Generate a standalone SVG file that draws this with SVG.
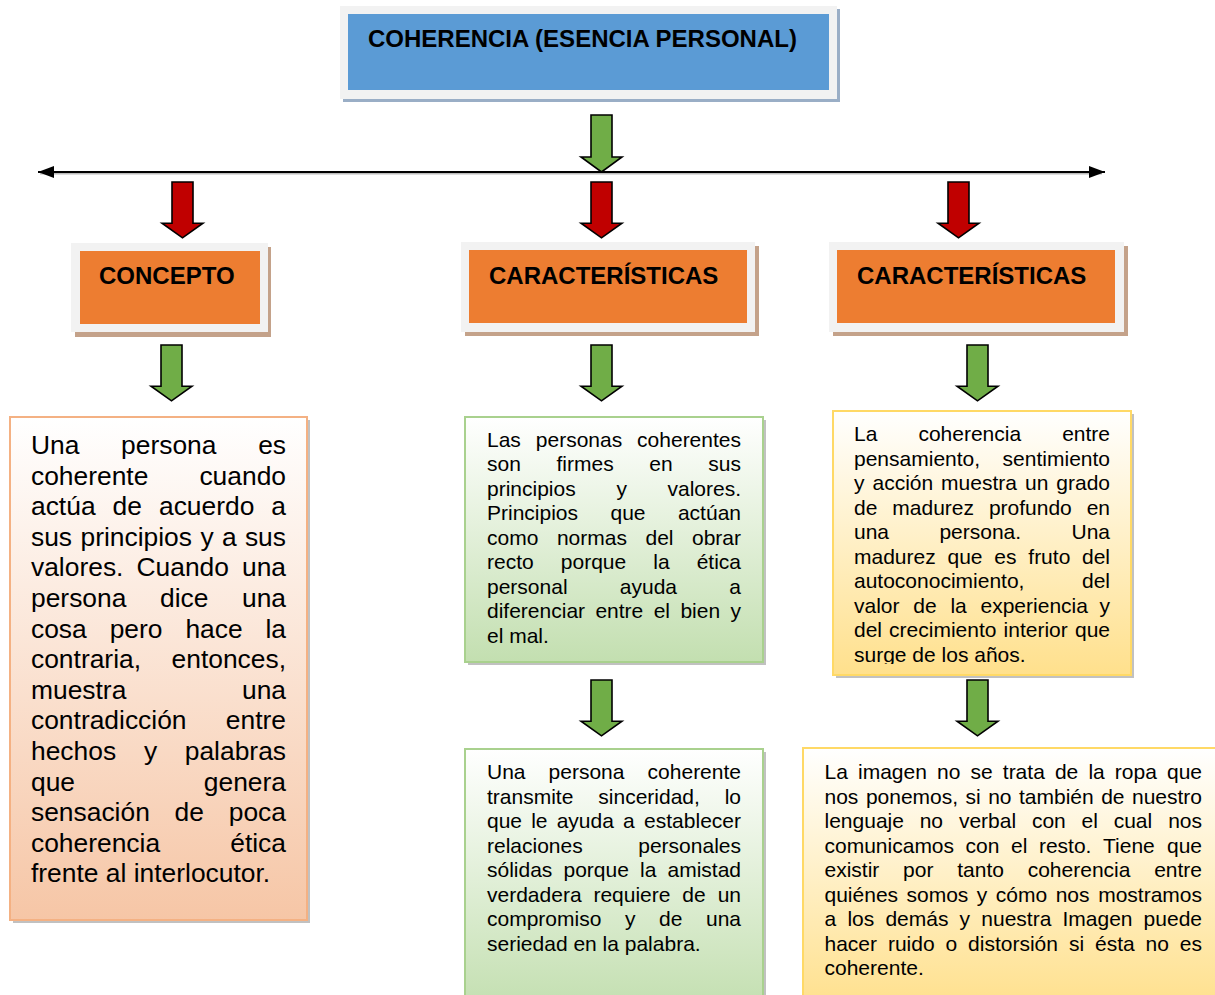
<svg xmlns="http://www.w3.org/2000/svg" xmlns:xlink="http://www.w3.org/1999/xlink" width="1215" height="995" viewBox="0 0 1215 995">
<style>
text{font-family:"Liberation Sans",Arial,sans-serif;fill:#000}
.h{font-weight:bold;font-size:24px}
.bl{font-size:26.4px}
.bs{font-size:21px}
.e{text-anchor:end}
.frame{fill:#f2f2f2}
.arrG{fill:#70ad47}
.arrR{fill:#c00000}
</style>
<defs>
<linearGradient id="gOr" x1="0" y1="0" x2="0" y2="1"><stop offset="0" stop-color="#ffffff"/><stop offset="1" stop-color="#f6c6a6"/></linearGradient>
<linearGradient id="gGr" x1="0" y1="0" x2="0" y2="1"><stop offset="0" stop-color="#ffffff"/><stop offset="1" stop-color="#c3dfb0"/></linearGradient>
<linearGradient id="gYe" x1="0" y1="0" x2="0" y2="1"><stop offset="0" stop-color="#ffffff"/><stop offset="1" stop-color="#ffe08c"/></linearGradient>
<path id="blk" d="M-10.5,0 H10.5 V42 H20.5 L0,57 L-20.5,42 H-10.5 Z" stroke="#000" stroke-width="1.6" stroke-linejoin="miter"/>
<marker id="ah" viewBox="0 0 16 12" refX="16" refY="6" markerWidth="16" markerHeight="12" markerUnits="userSpaceOnUse" orient="auto-start-reverse"><path d="M0,0 L16,6 L0,12 Z" fill="#000"/></marker>
<clipPath id="clipY1"><rect x="833" y="411" width="298" height="253"/></clipPath>
</defs>

<g id="connectors">
<line x1="40" y1="173.5" x2="1102" y2="173.5" stroke="#bbb" stroke-width="2"/>
<line x1="38" y1="172" x2="1105" y2="172" stroke="#000" stroke-width="2.2" marker-start="url(#ah)" marker-end="url(#ah)"/>
<use xlink:href="#blk" class="arrG" transform="translate(601.5,115)"/>
<use xlink:href="#blk" class="arrR" transform="translate(182.5,182) scale(1,0.98)"/>
<use xlink:href="#blk" class="arrR" transform="translate(601.5,182) scale(1,0.98)"/>
<use xlink:href="#blk" class="arrR" transform="translate(958.5,182) scale(1,0.98)"/>
<use xlink:href="#blk" class="arrG" transform="translate(171.5,345) scale(1,0.98)"/>
<use xlink:href="#blk" class="arrG" transform="translate(601.5,345) scale(1,0.98)"/>
<use xlink:href="#blk" class="arrG" transform="translate(977.5,345) scale(1,0.98)"/>
<use xlink:href="#blk" class="arrG" transform="translate(601.5,680) scale(1,0.98)"/>
<use xlink:href="#blk" class="arrG" transform="translate(977.5,680) scale(1,0.98)"/>
</g>

<g id="title">
<rect x="343" y="9" width="497" height="93" fill="#9aaec6"/>
<rect x="340" y="6" width="497" height="93" class="frame"/>
<rect x="348" y="14" width="481" height="76" fill="#5b9bd5"/>
<text class="h" x="368" y="47">COHERENCIA (ESENCIA PERSONAL)</text>
</g>

<g id="concepto">
<rect x="75" y="247" width="196" height="90" fill="#c4a28a"/>
<rect x="71" y="243" width="197" height="89" class="frame"/>
<rect x="80" y="251" width="180" height="73" fill="#ed7d31"/>
<text class="h" x="99" y="284">CONCEPTO</text>
</g>

<g id="caracteristicas1">
<rect x="465" y="246" width="294" height="90" fill="#c4a28a"/>
<rect x="461" y="242" width="294" height="90" class="frame"/>
<rect x="469" y="250" width="278" height="73" fill="#ed7d31"/>
<text class="h" x="489" y="284">CARACTERÍSTICAS</text>
</g>

<g id="caracteristicas2">
<rect x="833" y="246" width="295" height="90" fill="#c4a28a"/>
<rect x="829" y="242" width="295" height="90" class="frame"/>
<rect x="837" y="250" width="278" height="73" fill="#ed7d31"/>
<text class="h" x="857" y="284">CARACTERÍSTICAS</text>
</g>

<g id="concepto-texto">
<rect x="13" y="420" width="297" height="503" fill="#a6a6a6" opacity="0.7"/>
<rect x="10" y="417" width="297" height="503" fill="url(#gOr)" stroke="#f4b183" stroke-width="2"/>
<g class="bl">
<text y="454"><tspan x="31">Una</tspan><tspan x="121.1">persona</tspan><tspan x="286" class="e">es</tspan></text>
<text y="484.6"><tspan x="31">coherente</tspan><tspan x="286" class="e">cuando</tspan></text>
<text y="515.2"><tspan x="31">actúa</tspan><tspan x="112.6">de</tspan><tspan x="159">acuerdo</tspan><tspan x="286" class="e">a</tspan></text>
<text y="545.8"><tspan x="31">sus</tspan><tspan x="80.5">principios</tspan><tspan x="200.4">y</tspan><tspan x="222">a</tspan><tspan x="286" class="e">sus</tspan></text>
<text y="576.4"><tspan x="31">valores.</tspan><tspan x="136.5">Cuando</tspan><tspan x="286" class="e">una</tspan></text>
<text y="607"><tspan x="31">persona</tspan><tspan x="160">dice</tspan><tspan x="286" class="e">una</tspan></text>
<text y="637.6"><tspan x="31">cosa</tspan><tspan x="109.7">pero</tspan><tspan x="185.4">hace</tspan><tspan x="286" class="e">la</tspan></text>
<text y="668.2"><tspan x="31">contraria,</tspan><tspan x="286" class="e">entonces,</tspan></text>
<text y="698.8"><tspan x="31">muestra</tspan><tspan x="286" class="e">una</tspan></text>
<text y="729.4"><tspan x="31">contradicción</tspan><tspan x="286" class="e">entre</tspan></text>
<text y="760"><tspan x="31">hechos</tspan><tspan x="143.9">y</tspan><tspan x="286" class="e">palabras</tspan></text>
<text y="790.6"><tspan x="31">que</tspan><tspan x="286" class="e">genera</tspan></text>
<text y="821.2"><tspan x="31">sensación</tspan><tspan x="174.6">de</tspan><tspan x="286" class="e">poca</tspan></text>
<text y="851.8"><tspan x="31">coherencia</tspan><tspan x="286" class="e">ética</tspan></text>
<text y="882.4" x="31">frente al interlocutor.</text>
</g>
</g>

<g id="caract1-texto1">
<rect x="468" y="420" width="298" height="245" fill="#a6a6a6" opacity="0.7"/>
<rect x="465" y="417" width="298" height="245" fill="url(#gGr)" stroke="#a9d18e" stroke-width="2"/>
<g class="bs">
<text y="446.5"><tspan x="487">Las</tspan><tspan x="535.8">personas</tspan><tspan x="741" class="e">coherentes</tspan></text>
<text y="471"><tspan x="487">son</tspan><tspan x="556.5">firmes</tspan><tspan x="649.3">en</tspan><tspan x="741" class="e">sus</tspan></text>
<text y="495.5"><tspan x="487">principios</tspan><tspan x="616.4">y</tspan><tspan x="741" class="e">valores.</tspan></text>
<text y="520"><tspan x="487">Principios</tspan><tspan x="610.5">que</tspan><tspan x="741" class="e">actúan</tspan></text>
<text y="544.5"><tspan x="487">como</tspan><tspan x="556.9">normas</tspan><tspan x="645.5">del</tspan><tspan x="741" class="e">obrar</tspan></text>
<text y="569"><tspan x="487">recto</tspan><tspan x="560.8">porque</tspan><tspan x="653.3">la</tspan><tspan x="741" class="e">ética</tspan></text>
<text y="593.5"><tspan x="487">personal</tspan><tspan x="619.8">ayuda</tspan><tspan x="741" class="e">a</tspan></text>
<text y="618"><tspan x="487">diferenciar</tspan><tspan x="595.4">entre</tspan><tspan x="653.7">el</tspan><tspan x="680.4">bien</tspan><tspan x="741" class="e">y</tspan></text>
<text y="642.5" x="487">el mal.</text>
</g>
</g>

<g id="caract1-texto2">
<rect x="468" y="752" width="298" height="260" fill="#a6a6a6" opacity="0.7"/>
<rect x="465" y="749" width="298" height="260" fill="url(#gGr)" stroke="#a9d18e" stroke-width="2"/>
<g class="bs">
<text y="779"><tspan x="487">Una</tspan><tspan x="548.6">persona</tspan><tspan x="741" class="e">coherente</tspan></text>
<text y="803.5"><tspan x="487">transmite</tspan><tspan x="598.3">sinceridad,</tspan><tspan x="741" class="e">lo</tspan></text>
<text y="828"><tspan x="487">que</tspan><tspan x="531.2">le</tspan><tspan x="556.7">ayuda</tspan><tspan x="623.1">a</tspan><tspan x="741" class="e">establecer</tspan></text>
<text y="852.5"><tspan x="487">relaciones</tspan><tspan x="741" class="e">personales</tspan></text>
<text y="877"><tspan x="487">sólidas</tspan><tspan x="563.5">porque</tspan><tspan x="640">la</tspan><tspan x="741" class="e">amistad</tspan></text>
<text y="901.5"><tspan x="487">verdadera</tspan><tspan x="593.4">requiere</tspan><tspan x="682.3">de</tspan><tspan x="741" class="e">un</tspan></text>
<text y="926"><tspan x="487">compromiso</tspan><tspan x="624.9">y</tspan><tspan x="659">de</tspan><tspan x="741" class="e">una</tspan></text>
<text y="950.5" x="487">seriedad en la palabra.</text>
</g>
</g>

<g id="caract2-texto1">
<rect x="836" y="414" width="298" height="264" fill="#a6a6a6" opacity="0.7"/>
<rect x="833" y="411" width="298" height="264" fill="url(#gYe)" stroke="#ffd966" stroke-width="2"/>
<g class="bs" clip-path="url(#clipY1)">
<text y="441"><tspan x="854">La</tspan><tspan x="918.4">coherencia</tspan><tspan x="1110" class="e">entre</tspan></text>
<text y="465.5"><tspan x="854">pensamiento,</tspan><tspan x="1110" class="e">sentimiento</tspan></text>
<text y="490"><tspan x="854">y</tspan><tspan x="872.5">acción</tspan><tspan x="941.1">muestra</tspan><tspan x="1025">un</tspan><tspan x="1110" class="e">grado</tspan></text>
<text y="514.5"><tspan x="854">de</tspan><tspan x="892.3">madurez</tspan><tspan x="988.9">profundo</tspan><tspan x="1110" class="e">en</tspan></text>
<text y="539"><tspan x="854">una</tspan><tspan x="939.4">persona.</tspan><tspan x="1110" class="e">Una</tspan></text>
<text y="563.5"><tspan x="854">madurez</tspan><tspan x="947.5">que</tspan><tspan x="994.3">es</tspan><tspan x="1028.3">fruto</tspan><tspan x="1110" class="e">del</tspan></text>
<text y="588"><tspan x="854">autoconocimiento,</tspan><tspan x="1110" class="e">del</tspan></text>
<text y="612.5"><tspan x="854">valor</tspan><tspan x="913.3">de</tspan><tspan x="950.4">la</tspan><tspan x="980.5">experiencia</tspan><tspan x="1110" class="e">y</tspan></text>
<text y="637"><tspan x="854">del</tspan><tspan x="889.1">crecimiento</tspan><tspan x="1003.6">interior</tspan><tspan x="1110" class="e">que</tspan></text>
<text y="661.5" x="854">surge de los años.</text>
</g>
</g>

<g id="caract2-texto2">
<rect x="806" y="751" width="420" height="260" fill="#a6a6a6" opacity="0.7"/>
<rect x="803" y="748" width="420" height="260" fill="url(#gYe)" stroke="#ffd966" stroke-width="2"/>
<g class="bs">
<text y="779"><tspan x="824.5">La</tspan><tspan x="858">imagen</tspan><tspan x="937">no</tspan><tspan x="970.5">se</tspan><tspan x="1002.8">trata</tspan><tspan x="1054.9">de</tspan><tspan x="1088.4">la</tspan><tspan x="1114.8">ropa</tspan><tspan x="1202" class="e">que</tspan></text>
<text y="803.5"><tspan x="824.5">nos</tspan><tspan x="865.9">ponemos,</tspan><tspan x="965.5">si</tspan><tspan x="988.2">no</tspan><tspan x="1019">también</tspan><tspan x="1101.2">de</tspan><tspan x="1202" class="e">nuestro</tspan></text>
<text y="828"><tspan x="824.5">lenguaje</tspan><tspan x="919.7">no</tspan><tspan x="958.9">verbal</tspan><tspan x="1031.9">con</tspan><tspan x="1081.6">el</tspan><tspan x="1113.7">cual</tspan><tspan x="1202" class="e">nos</tspan></text>
<text y="852.5"><tspan x="824.5">comunicamos</tspan><tspan x="965.6">con</tspan><tspan x="1011">el</tspan><tspan x="1038.9">resto.</tspan><tspan x="1103">Tiene</tspan><tspan x="1202" class="e">que</tspan></text>
<text y="877"><tspan x="824.5">existir</tspan><tspan x="903.1">por</tspan><tspan x="957.2">tanto</tspan><tspan x="1027.7">coherencia</tspan><tspan x="1202" class="e">entre</tspan></text>
<text y="901.5"><tspan x="824.5">quiénes</tspan><tspan x="906.5">somos</tspan><tspan x="976.8">y</tspan><tspan x="995.8">cómo</tspan><tspan x="1055.7">nos</tspan><tspan x="1202" class="e">mostramos</tspan></text>
<text y="926"><tspan x="824.5">a</tspan><tspan x="847.4">los</tspan><tspan x="885.4">demás</tspan><tspan x="959.6">y</tspan><tspan x="981.3">nuestra</tspan><tspan x="1062.5">Imagen</tspan><tspan x="1202" class="e">puede</tspan></text>
<text y="950.5"><tspan x="824.5">hacer</tspan><tspan x="887.9">ruido</tspan><tspan x="945.5">o</tspan><tspan x="968.1">distorsión</tspan><tspan x="1068.9">si</tspan><tspan x="1095">ésta</tspan><tspan x="1145.6">no</tspan><tspan x="1202" class="e">es</tspan></text>
<text y="975" x="824.5">coherente.</text>
</g>
</g>
</svg>
